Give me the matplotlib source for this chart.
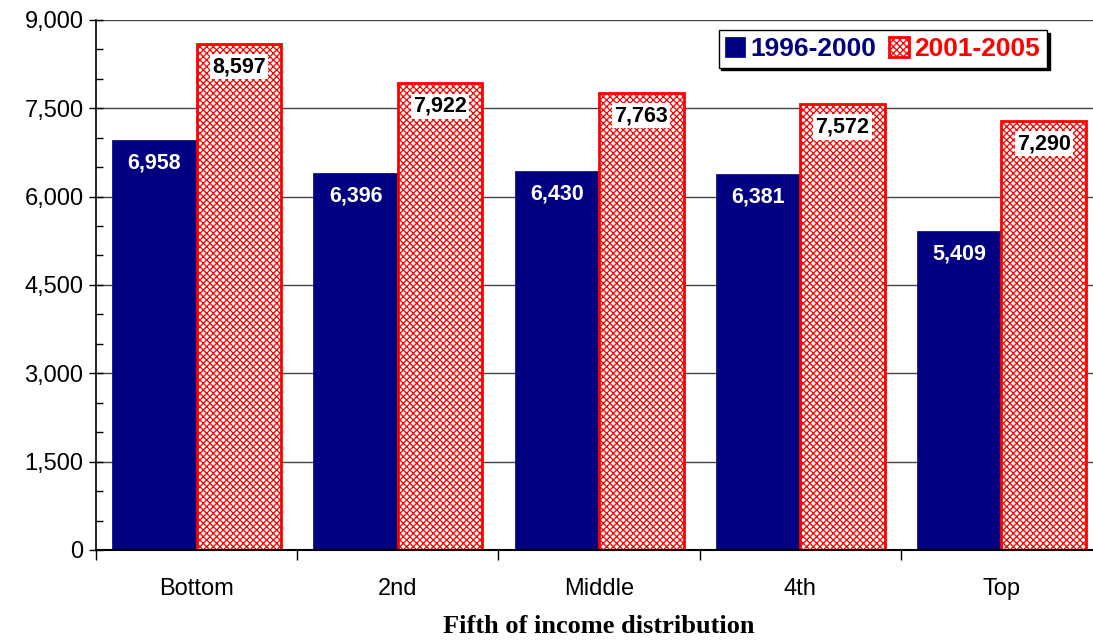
import numpy as np
import matplotlib.pyplot as plt
from matplotlib.ticker import MultipleLocator, FuncFormatter

# Data
categories = ["Bottom", "2nd", "Middle", "4th", "Top"]
period_1 = [6958, 6396, 6430, 6381, 5409]   # 1996-2000
period_2 = [8597, 7922, 7763, 7572, 7290]   # 2001-2005
series_names = ["1996-2000", "2001-2005"]

navy = "#000080"
red = "#FF0000"

plt.rcParams["font.family"] = ["Liberation Sans", "DejaVu Sans"]
plt.rcParams["hatch.linewidth"] = 0.9

fig = plt.figure(figsize=(10.93, 6.41), dpi=100)
ax = fig.add_axes([0.0878, 0.142, 0.9205, 0.827])

x = np.arange(len(categories))
w = 0.42
b1 = ax.bar(x - w / 2, period_1, w, color=navy, edgecolor=navy, linewidth=0.5,
            label=series_names[0], zorder=3)
b2 = ax.bar(x + w / 2, period_2, w, color="white", edgecolor=red, hatch="xxxxx",
            linewidth=2, label=series_names[1], zorder=3)

# Value labels
for rect, v in zip(b1, period_1):
    ax.text(rect.get_x() + rect.get_width() / 2, v - 390, f"{v:,}",
            ha="center", va="center", color="white", fontsize=15.5,
            fontweight="bold", zorder=4)
for rect, v in zip(b2, period_2):
    ax.text(rect.get_x() + rect.get_width() / 2, v - 390, f"{v:,}",
            ha="center", va="center", color="black", fontsize=15.5,
            fontweight="bold", zorder=4,
            bbox=dict(facecolor="white", edgecolor="none", pad=1.5))

# Axes
ax.set_xlim(-0.5, len(categories) - 0.5)
ax.set_ylim(0, 9000)
ax.yaxis.set_major_locator(MultipleLocator(1500))
ax.yaxis.set_minor_locator(MultipleLocator(500))
ax.yaxis.set_major_formatter(FuncFormatter(lambda v, p: f"{int(v):,}"))
ax.tick_params(axis="y", which="major", direction="inout", length=10,
               width=1, labelsize=17, pad=4)
ax.tick_params(axis="y", which="minor", direction="in", length=5, width=1)

ax.set_xticks(x)
ax.set_xticklabels(categories, fontsize=17)
ax.tick_params(axis="x", which="major", length=0, pad=20)
ax.set_xticks(np.arange(-0.5, len(categories), 1), minor=True)
ax.tick_params(axis="x", which="minor", direction="out", length=7, width=1)

ax.grid(axis="y", color="#444444", linewidth=1, zorder=0)
ax.set_axisbelow(True)
for s in ["top", "right"]:
    ax.spines[s].set_visible(False)
ax.spines["left"].set_linewidth(1.2)
ax.spines["bottom"].set_linewidth(1.5)
ax.spines["bottom"].set_zorder(5)

ax.set_xlabel("Fifth of income distribution", family="Liberation Serif",
              fontsize=19, fontweight="bold", labelpad=11)

leg = ax.legend(loc="upper right", bbox_to_anchor=(0.945, 0.98), ncol=2,
                frameon=True, fancybox=False, edgecolor="black",
                shadow={"color": "black", "alpha": 1},
                prop={"size": 19, "weight": "bold"},
                handlelength=0.75, handleheight=0.75, handletextpad=0.2,
                columnspacing=0.5, borderpad=0.25, borderaxespad=0)
leg.get_frame().set_linewidth(1)
for txt, c in zip(leg.get_texts(), [navy, red]):
    txt.set_color(c)

fig.savefig("out.png", dpi=100)
